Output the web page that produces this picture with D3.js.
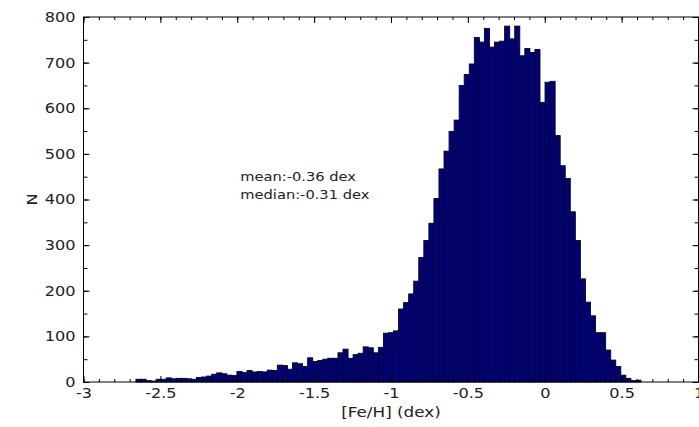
<!DOCTYPE html>
<html>
<head>
<meta charset="utf-8">
<script src="https://cdn.jsdelivr.net/npm/d3@7"></script>
<style>
  html, body { margin: 0; padding: 0; background: #fff; }
  svg { display: block; }
  text { font-family: "DejaVu Sans", "Liberation Sans", sans-serif; fill: #222; }
</style>
</head>
<body>
<svg id="chart" width="699" height="427"></svg>
<script>
// Histogram of [Fe/H]: 100 equal-width bins between binLo and binHi
const binLo = -2.659;
const binHi = 0.626;
const counts = [
  6, 6, 3, 2, 6, 6, 9, 7, 8, 8,
  7, 6, 10, 11, 13, 17, 20, 18, 15, 14,
  23, 21, 25, 22, 23, 22, 26, 25, 37, 36,
  28, 42, 40, 34, 53, 45, 47, 50, 52, 52,
  64, 72, 52, 60, 63, 77, 75, 64, 76, 107,
  108, 112, 160, 174, 193, 221, 273, 310, 348, 402,
  467, 506, 549, 574, 650, 674, 697, 755, 745, 775,
  734, 745, 747, 780, 752, 780, 715, 731, 722, 729,
  613, 657, 659, 540, 474, 446, 373, 310, 226, 175,
  145, 108, 108, 70, 48, 34, 15, 8, 3, 4
];

// Axis ticks and labels
const xMajor = [-3, -2.5, -2, -1.5, -1, -0.5, 0, 0.5, 1];
const xMinor = d3.range(-30, 11).map(k => k / 10);
const yMajor = [0, 100, 200, 300, 400, 500, 600, 700, 800];
const yMinor = d3.range(0, 801, 50);
const xTitle = "[Fe/H] (dex)";
const yTitle = "N";
const notes = ["mean:-0.36 dex", "median:-0.31 dex"];
const notePos = { x: -1.98, y: 440 };

const svg = d3.select("#chart");
const x = d3.scaleLinear().domain([-3, 1]).range([83.5, 698.5]);
const y = d3.scaleLinear().domain([0, 800]).range([382, 17]);

const binW = (binHi - binLo) / counts.length;
const bins = counts.map((c, i) => ({ x0: binLo + i * binW, x1: binLo + (i + 1) * binW, n: c }));

// bars
svg.append("g").selectAll("rect")
  .data(bins)
  .join("rect")
  .attr("x", d => x(d.x0))
  .attr("y", d => y(d.n))
  .attr("width", d => x(d.x1) - x(d.x0))
  .attr("height", d => y(0) - y(d.n))
  .attr("fill", "#00007a")
  .attr("stroke", "#06061c")
  .attr("stroke-width", 0.9);

const fmt = d => (d === 0 ? "0" : String(d));

function styleAxis(g) {
  g.select(".domain").remove();
  g.selectAll(".tick line").attr("stroke", "#000");
}

// bottom axis with labels
const gx = svg.append("g").attr("transform", `translate(0,${y(0)})`)
  .call(d3.axisBottom(x).tickValues(xMajor).tickFormat(fmt).tickSizeInner(-6).tickSizeOuter(0).tickPadding(6))
  .call(styleAxis);
svg.append("g").attr("transform", `translate(0,${y(0)})`)
  .call(d3.axisBottom(x).tickValues(xMinor).tickFormat("").tickSizeInner(-3).tickSizeOuter(0))
  .call(styleAxis);
// top mirrored ticks
svg.append("g").attr("transform", `translate(0,${y(800)})`)
  .call(d3.axisTop(x).tickValues(xMajor).tickFormat("").tickSizeInner(-6).tickSizeOuter(0))
  .call(styleAxis);
svg.append("g").attr("transform", `translate(0,${y(800)})`)
  .call(d3.axisTop(x).tickValues(xMinor).tickFormat("").tickSizeInner(-3).tickSizeOuter(0))
  .call(styleAxis);

// left axis with labels
const gy = svg.append("g").attr("transform", `translate(${x(-3)},0)`)
  .call(d3.axisLeft(y).tickValues(yMajor).tickFormat(fmt).tickSizeInner(-6).tickSizeOuter(0).tickPadding(8))
  .call(styleAxis);
svg.append("g").attr("transform", `translate(${x(-3)},0)`)
  .call(d3.axisLeft(y).tickValues(yMinor).tickFormat("").tickSizeInner(-4).tickSizeOuter(0))
  .call(styleAxis);
// right mirrored ticks
svg.append("g").attr("transform", `translate(${x(1)},0)`)
  .call(d3.axisRight(y).tickValues(yMajor).tickFormat("").tickSizeInner(-6).tickSizeOuter(0))
  .call(styleAxis);
svg.append("g").attr("transform", `translate(${x(1)},0)`)
  .call(d3.axisRight(y).tickValues(yMinor).tickFormat("").tickSizeInner(-4).tickSizeOuter(0))
  .call(styleAxis);

// frame box
svg.append("rect")
  .attr("x", x(-3)).attr("y", y(800))
  .attr("width", x(1) - x(-3)).attr("height", y(0) - y(800))
  .attr("fill", "none").attr("stroke", "#000").attr("stroke-width", 1);

// widen glyphs slightly to the screen font's proportions
function widen(sel, k) {
  sel.each(function () {
    const len = this.getComputedTextLength();
    d3.select(this).attr("textLength", len * k).attr("lengthAdjust", "spacingAndGlyphs");
  });
}

gx.selectAll(".tick text").attr("font-size", 14).attr("fill", "#222").attr("font-family", null);
gy.selectAll(".tick text").attr("font-size", 14).attr("fill", "#222").attr("font-family", null);
widen(gx.selectAll(".tick text"), 1.15);
widen(gy.selectAll(".tick text"), 1.15);

// axis titles
const xt = svg.append("text")
  .attr("x", x(-1)).attr("y", 417)
  .attr("text-anchor", "middle").attr("font-size", 14)
  .text(xTitle);
widen(xt, 1.2);

const yt = svg.append("text")
  .attr("transform", `translate(37,${y(400)}) rotate(-90)`)
  .attr("text-anchor", "middle").attr("font-size", 14)
  .text(yTitle);
widen(yt, 1.15);

// statistics annotation
const nt = svg.append("g").selectAll("text")
  .data(notes)
  .join("text")
  .attr("x", x(notePos.x))
  .attr("y", (d, i) => y(notePos.y) + i * 18)
  .attr("font-size", 12)
  .text(d => d);
widen(nt, 1.22);
</script>
</body>
</html>
